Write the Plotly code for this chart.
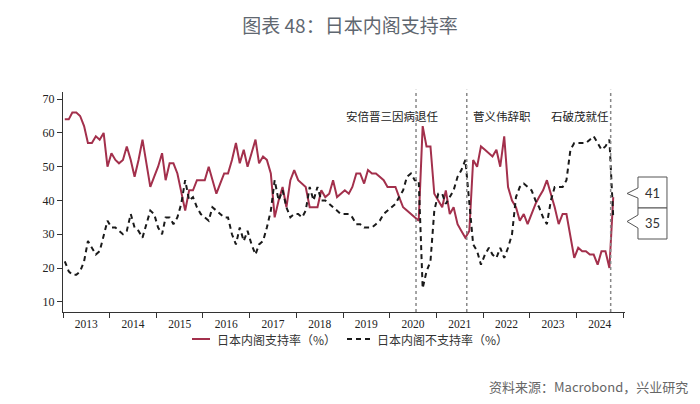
import plotly.graph_objects as go

# ---------------- data (monthly, Jan 2013 - Oct 2024) ----------------
start_year = 2013
support = [
    64, 64, 66, 66, 65, 62, 57, 57, 59, 58, 60, 50,   # 2013
    54, 52, 51, 52, 56, 52, 47, 52, 58, 51, 44, 47,   # 2014
    50, 54, 46, 51, 51, 48, 42, 37, 43, 43, 46, 46,   # 2015
    46, 50, 46, 42, 45, 48, 48, 52, 57, 51, 55, 50,   # 2016
    54, 58, 51, 53, 52, 48, 35, 40, 44, 38, 46, 49,   # 2017
    46, 45, 44, 38, 38, 38, 43, 41, 42, 46, 41, 42,   # 2018
    43, 42, 44, 48, 48, 45, 49, 48, 48, 47, 46, 44,   # 2019
    44, 44, 41, 38, 37, 36, 35, 34, 62, 56, 56, 42,   # 2020
    40, 38, 43, 36, 38, 33, 31, 29, 31, 52, 50, 56,   # 2021
    55, 54, 53, 55, 50, 59, 44, 40, 38, 34, 36, 33,   # 2022
    36, 39, 41, 43, 46, 42, 38, 33, 36, 36, 29, 23,   # 2023
    26, 25, 25, 24, 24, 21, 25, 25, 20, 41,           # 2024
]
oppose = [
    22, 19, 18, 18, 19, 22, 28, 26, 24, 25, 30, 34,   # 2013
    32, 32, 31, 30, 31, 36, 32, 31, 29, 33, 37, 36,   # 2014
    32, 30, 35, 35, 33, 35, 39, 46, 40, 41, 38, 36,   # 2015
    35, 34, 38, 37, 36, 35, 35, 30, 27, 32, 28, 31,   # 2016
    27, 24, 27, 28, 32, 37, 46, 40, 43, 38, 35, 36,   # 2017
    36, 35, 37, 44, 40, 44, 40, 40, 39, 38, 37, 36,   # 2018
    36, 36, 35, 33, 33, 32, 32, 32, 33, 34, 36, 37,   # 2019
    38, 39, 41, 43, 47, 48, 46, 46, 14, 19, 22, 37,   # 2020
    42, 42, 39, 41, 43, 47, 49, 52, 40, 27, 25, 21,   # 2021
    24, 26, 24, 23, 26, 23, 26, 30, 41, 44, 45, 44,   # 2022
    43, 40, 38, 35, 33, 40, 44, 44, 44, 46, 55, 57,   # 2023
    57, 57, 57, 58, 59, 57, 55, 56, 58, 35,           # 2024
]
dates = [f"{start_year + m // 12}-{m % 12 + 1:02d}-15" for m in range(len(support))]

series_names = ["日本内阁支持率（%）", "日本内阁不支持率（%）"]
event_labels = ["安倍晋三因病退任", "菅义伟辞职", "石破茂就任"]
event_dates = ["2020-07-25", "2021-08-26", "2024-09-25"]
event_label_x = ["2020-01-20", "2022-05-28", "2024-01-27"]
y_ticks = [10, 20, 30, 40, 50, 60, 70]

title_text = "图表 48：日本内阁支持率"
source_text = "资料来源：Macrobond，兴业研究"

# ---------------- layout geometry ----------------
W, H = 700, 404
L, R, T, B = 63, 75, 92, 92
PW, PH = W - L - R, H - T - B


def px(x, y):
    """pixel -> paper coords"""
    return (x - L) / PW, (H - B - y) / PH


RED = "#A3304C"
BLACK = "#1a1a1a"
CJK = "Noto Sans CJK SC"
SERIF = "Liberation Serif"
DASH = "5px,4px"

fig = go.Figure()
fig.add_trace(go.Scatter(x=dates, y=support, mode="lines", name=series_names[0],
                         line=dict(color=RED, width=2), showlegend=False))
fig.add_trace(go.Scatter(x=dates, y=oppose, mode="lines", name=series_names[1],
                         line=dict(color=BLACK, width=2, dash=DASH), showlegend=False))

shapes = []
annotations = []
for d in event_dates:
    shapes.append(dict(type="line", xref="x", yref="paper", x0=d, x1=d, y0=0, y1=1.01,
                       line=dict(color="#888888", width=1.5, dash="dot")))
label_y = px(0, 116)[1]
for lab, lx in zip(event_labels, event_label_x):
    annotations.append(dict(text=lab, xref="x", yref="paper", x=lx, y=label_y,
                            showarrow=False, font=dict(family=CJK, size=11.5, color="#222"),
                            xanchor="center", yanchor="middle"))


# callout boxes with the last values
def callout(y_top, y_bot, y_n1, y_tip, y_n2, x_left=638, x_right=667, x_tip=627):
    pts = [(x_left, y_top), (x_right, y_top), (x_right, y_bot), (x_left, y_bot),
           (x_left, y_n2), (x_tip, y_tip), (x_left, y_n1)]
    p = [px(a, b) for a, b in pts]
    path = "M " + " L ".join(f"{a:.4f},{b:.4f}" for a, b in p) + " Z"
    return dict(type="path", xref="paper", yref="paper", path=path,
                line=dict(color="#555", width=1), fillcolor="white")


shapes.append(callout(177, 208, 188, 193.5, 198))
shapes.append(callout(208, 239, 215, 221.5, 228))
for val, yc in [(support[-1], 193), (oppose[-1], 223)]:
    xx, yy = px(652, yc)
    annotations.append(dict(text=str(val), xref="paper", yref="paper", x=xx, y=yy,
                            showarrow=False, font=dict(family="Lato", size=13, color="#333"),
                            xanchor="center", yanchor="middle"))

# manual legend
LEG_Y = 339
legend_items = [(RED, "solid", 192, 210, 215), (BLACK, DASH, 347, 370, 375)]
for (col, dash, x0, x1, xt), name in zip(legend_items, series_names):
    a0, yy = px(x0, LEG_Y)
    a1, _ = px(x1, LEG_Y)
    shapes.append(dict(type="line", xref="paper", yref="paper", x0=a0, x1=a1, y0=yy, y1=yy,
                       line=dict(color=col, width=2, dash=dash)))
    at, _ = px(xt, LEG_Y)
    annotations.append(dict(text=name, xref="paper", yref="paper", x=at, y=yy,
                            showarrow=False, font=dict(family=CJK, size=12, color="#333"),
                            xanchor="left", yanchor="middle"))

sx, sy = px(690, 386)
annotations.append(dict(text=source_text, xref="paper", yref="paper", x=sx, y=sy,
                        showarrow=False, font=dict(family=CJK, size=13, color="#666"),
                        xanchor="right", yanchor="middle"))

fig.update_layout(
    width=W, height=H,
    margin=dict(l=L, r=R, t=T, b=B, autoexpand=False),
    paper_bgcolor="white", plot_bgcolor="white",
    title=dict(text=title_text, x=0.5, xref="container", xanchor="center",
               y=0.935, yref="container", yanchor="middle",
               font=dict(family=CJK, size=19, color="#5f6770")),
    showlegend=False,
    shapes=shapes,
    annotations=annotations,
    xaxis=dict(type="date", range=["2013-01-01", "2025-01-15"],
               tick0="2013-01-01", dtick="M12", tickformat="%Y", ticklabelmode="period",
               ticks="outside", ticklen=5, tickcolor="#333", showline=True,
               linecolor="#333", linewidth=1, showgrid=False, zeroline=False,
               automargin=False, ticklabelstandoff=-4,
               tickfont=dict(family=SERIF, size=11.5, color="#222")),
    yaxis=dict(range=[7, 72.1], tickvals=y_ticks, ticks="outside", ticklen=5,
               tickcolor="#333", showline=True, linecolor="#333", linewidth=1,
               showgrid=False, zeroline=False, automargin=False,
               tickfont=dict(family=SERIF, size=12, color="#222")),
)

fig.write_html("out.html",
               config={"displayModeBar": False},
               post_script="document.body.style.margin='0';document.body.style.overflow='hidden';")
